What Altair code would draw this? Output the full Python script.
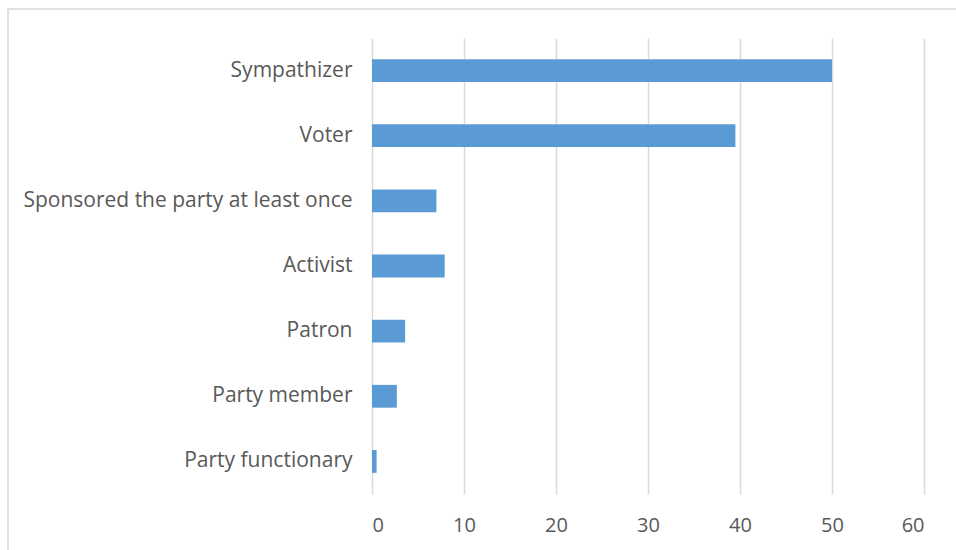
import altair as alt
import pandas as pd

categories = ["Sympathizer", "Voter", "Sponsored the party at least once",
              "Activist", "Patron", "Party member", "Party functionary"]
values = [50.0, 39.5, 7.0, 7.9, 3.6, 2.7, 0.5]

df = pd.DataFrame({"category": categories, "value": values})

FONT = "Open Sans"
TEXT = "#595959"
GRID = "#D9D9D9"

border = alt.Chart(pd.DataFrame({"a": [0]})).mark_rect(
    fill=None, stroke=GRID, strokeWidth=1.5
).encode(
    x=alt.value(-364), x2=alt.value(700),
    y=alt.value(-29), y2=alt.value(700)
)

bars = alt.Chart(df).mark_bar(color="#5B9BD5").encode(
    x=alt.X("value:Q",
            scale=alt.Scale(domain=[0, 60], nice=False),
            axis=alt.Axis(values=[0, 10, 20, 30, 40, 50, 60], title=None,
                          domain=False, ticks=False, grid=True,
                          gridColor=GRID, gridWidth=1.5,
                          labelFont=FONT, labelFontSize=20, labelColor=TEXT,
                          labelPadding=21)),
    y=alt.Y("category:N", sort=categories,
            scale=alt.Scale(paddingInner=0.65, paddingOuter=0.325),
            axis=alt.Axis(title=None, domain=False, ticks=False,
                          labelFont=FONT, labelFontSize=21, labelColor=TEXT,
                          labelPadding=20, labelLimit=400))
)

chart = alt.layer(border, bars).properties(
    width=552, height=456,
    autosize=alt.AutoSizeParams(type="none"),
    padding={"left": 372, "top": 38, "right": 32, "bottom": 56},
    background="white"
).configure_view(stroke=None)

chart.save("out.html", embed_options={"renderer": "svg", "actions": False})
